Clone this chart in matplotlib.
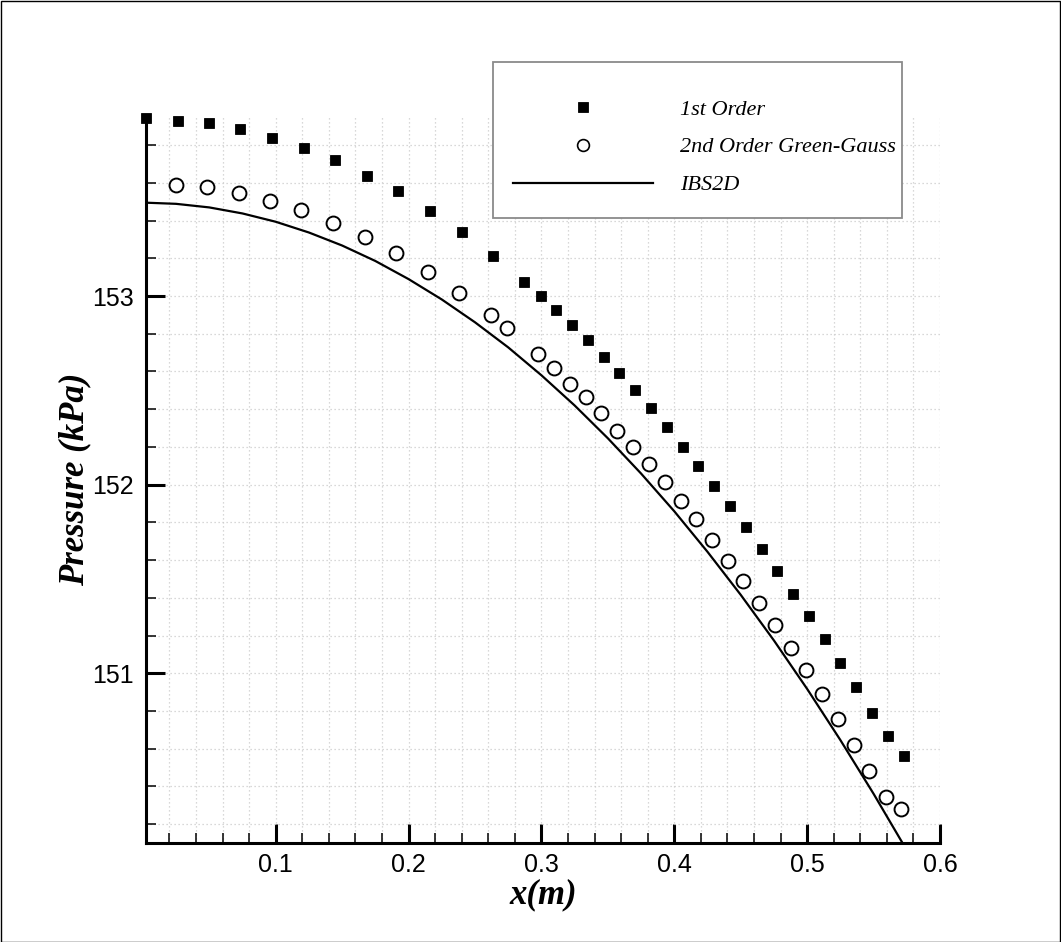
import matplotlib
matplotlib.use("Agg")
import matplotlib.pyplot as plt
from matplotlib.lines import Line2D
from matplotlib.patches import Rectangle
from matplotlib.ticker import MultipleLocator, FixedLocator

# First-order scheme: cell-centre pressure along the channel
x_first = [0.0026, 0.0264, 0.0500, 0.0735, 0.0971, 0.1212, 0.1448, 0.1686,
           0.1924, 0.2163, 0.2401, 0.2639, 0.2872, 0.2995, 0.3113, 0.3231,
           0.3349, 0.3469, 0.3587, 0.3703, 0.3825, 0.3944, 0.4064, 0.4181,
           0.4302, 0.4420, 0.4538, 0.4658, 0.4776, 0.4896, 0.5014, 0.5132,
           0.5250, 0.5370, 0.5491, 0.5606, 0.5729]
p_first = [153.942, 153.929, 153.915, 153.884, 153.839, 153.783, 153.721,
           153.638, 153.557, 153.452, 153.338, 153.214, 153.074, 153.000,
           152.926, 152.845, 152.765, 152.675, 152.590, 152.502, 152.408,
           152.307, 152.201, 152.099, 151.993, 151.888, 151.776, 151.661,
           151.544, 151.420, 151.305, 151.180, 151.053, 150.926, 150.791,
           150.668, 150.562]

# Second-order Green-Gauss scheme
x_second = [0.0249, 0.0485, 0.0723, 0.0961, 0.1194, 0.1435, 0.1671, 0.1909,
            0.2147, 0.2383, 0.2622, 0.2740, 0.2977, 0.3096, 0.3214, 0.3334,
            0.3451, 0.3570, 0.3692, 0.3810, 0.3929, 0.4047, 0.4164, 0.4282,
            0.4407, 0.4520, 0.4637, 0.4757, 0.4877, 0.4995, 0.5114, 0.5233,
            0.5351, 0.5468, 0.5591, 0.5709]
p_second = [153.590, 153.578, 153.546, 153.502, 153.457, 153.389, 153.314,
            153.230, 153.129, 153.017, 152.897, 152.829, 152.691, 152.620,
            152.534, 152.463, 152.378, 152.286, 152.201, 152.109, 152.012,
            151.912, 151.820, 151.708, 151.597, 151.488, 151.374, 151.257,
            151.136, 151.015, 150.889, 150.756, 150.618, 150.482, 150.343,
            150.279]

# IBS2D reference solution
x_ibs = [0.0026, 0.025, 0.050, 0.075, 0.100, 0.125, 0.150, 0.175, 0.200,
         0.225, 0.250, 0.275, 0.300, 0.325, 0.350, 0.375, 0.400, 0.425,
         0.450, 0.475, 0.500, 0.525, 0.550, 0.5712]
p_ibs = [153.495, 153.489, 153.470, 153.438, 153.394, 153.337, 153.268,
         153.186, 153.090, 152.982, 152.861, 152.728, 152.580, 152.420,
         152.246, 152.059, 151.859, 151.644, 151.416, 151.174, 150.917,
         150.646, 150.361, 150.107]

x_major = [0.1, 0.2, 0.3, 0.4, 0.5, 0.6]
x_tick_labels = ["0.1", "0.2", "0.3", "0.4", "0.5", "0.6"]
y_major = [151, 152, 153]
y_tick_labels = ["151", "152", "153"]

W, H = 1061, 942
fig = plt.figure(figsize=(W / 100, H / 100), dpi=100)
fig.patch.set_facecolor("white")

ax_l, ax_r, ax_t, ax_b = 146, 940, 115, 843
ax = fig.add_axes([ax_l / W, 1 - ax_b / H, (ax_r - ax_l) / W, (ax_b - ax_t) / H])

ax.plot(x_ibs, p_ibs, color="black", lw=1.6, zorder=3, clip_on=True)
ax.plot(x_second, p_second, ls="none", marker="o", ms=10, mfc="white",
        mec="black", mew=1.4, zorder=4)
ax.plot(x_first, p_first, ls="none", marker="s", ms=7, mfc="black",
        mec="black", mew=0.6, zorder=5, clip_on=False)

ax.set_xlim(0.0024, 0.6)
ax.set_ylim(150.1, 153.96)

ax.xaxis.set_major_locator(FixedLocator(x_major))
ax.set_xticklabels(x_tick_labels)
ax.xaxis.set_minor_locator(MultipleLocator(0.02))
ax.yaxis.set_major_locator(FixedLocator(y_major))
ax.set_yticklabels(y_tick_labels)
ax.yaxis.set_minor_locator(MultipleLocator(0.2))

for side in ("top", "right"):
    ax.spines[side].set_visible(False)
for side in ("left", "bottom"):
    ax.spines[side].set_linewidth(2.2)
    ax.spines[side].set_capstyle("projecting")

ax.tick_params(which="major", direction="in", length=13.5, width=2.2,
               labelsize=18, color="black")
ax.tick_params(which="minor", direction="in", length=7.5, width=1.1,
               color="black")
ax.tick_params(axis="x", which="major", pad=7)
ax.tick_params(axis="y", which="major", pad=8.5)
ax.tick_params(top=False, right=False, which="both")
for lbl in ax.get_xticklabels() + ax.get_yticklabels():
    lbl.set_fontfamily("Liberation Sans")

ax.grid(which="both", color="#cccccc", linestyle=(0, (1, 2.2)), linewidth=0.9)
ax.set_axisbelow(True)

label_font = dict(family="Liberation Serif", weight="bold", style="italic",
                  size=25)
ax.set_xlabel("x(m)", fontdict=label_font, va="center")
ax.set_ylabel("Pressure (kPa)", fontdict=label_font, va="center")
ax.xaxis.set_label_coords(0.5, (ax_b - 895) / (ax_b - ax_t))
ax.yaxis.set_label_coords((75 - ax_l) / (ax_r - ax_l), 0.5)

# Legend frame and entries
lx0, lx1, ly0, ly1 = 493, 902, 62, 218
fig.patches.append(Rectangle((lx0 / W, 1 - ly1 / H), (lx1 - lx0) / W,
                             (ly1 - ly0) / H, transform=fig.transFigure,
                             facecolor="white", edgecolor="#8a8a8a",
                             linewidth=1.3, zorder=10))

handles = [
    Line2D([], [], ls="none", marker="s", ms=7, mfc="black", mec="black", mew=0.6),
    Line2D([], [], ls="none", marker="o", ms=8.5, mfc="white", mec="black", mew=1.2),
    Line2D([], [], color="black", lw=1.6),
]
labels = ["1st Order", "2nd Order Green-Gauss", "IBS2D"]
leg = fig.legend(handles, labels, loc="upper left",
                 bbox_to_anchor=(513 / W, 1 - 99 / H), frameon=False,
                 borderpad=0, borderaxespad=0, handlelength=6.3,
                 handletextpad=1.2, labelspacing=0.78, numpoints=1,
                 prop=dict(family="Liberation Serif", style="italic",
                           size=16))
leg.set_zorder(11)

# Outer border around the whole figure
fig.patches.append(Rectangle((0.5 / W, 0.5 / H), 1 - 1.5 / W, 1 - 1.5 / H,
                             transform=fig.transFigure, facecolor="none",
                             edgecolor="black", linewidth=1.0, zorder=0))

fig.savefig("out.png", dpi=100, facecolor="white")
